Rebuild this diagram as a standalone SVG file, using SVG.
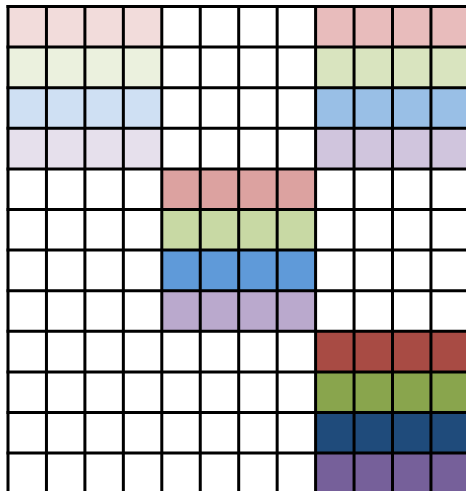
<svg xmlns="http://www.w3.org/2000/svg" width="466" height="491" viewBox="0 0 466 491">
  <style>
    .grid { stroke: #000; stroke-width: 3; fill: none; }
  </style>
  <rect width="466" height="491" fill="#ffffff"/>
  <g id="block-top-left">
    <rect x="8" y="6.5" width="153.8" height="40.6" fill="#f2dcdb"/>
    <rect x="8" y="47.1" width="153.8" height="40.6" fill="#ebf1de"/>
    <rect x="8" y="87.7" width="153.8" height="40.6" fill="#cfe0f3"/>
    <rect x="8" y="128.3" width="153.8" height="40.6" fill="#e6e0ec"/>
  </g>
  <g id="block-top-right">
    <rect x="315.6" y="6.5" width="160" height="40.6" fill="#e8bcbc"/>
    <rect x="315.6" y="47.1" width="160" height="40.6" fill="#d9e4bf"/>
    <rect x="315.6" y="87.7" width="160" height="40.6" fill="#99bfe6"/>
    <rect x="315.6" y="128.3" width="160" height="40.6" fill="#d0c5dd"/>
  </g>
  <g id="block-middle">
    <rect x="161.8" y="168.9" width="153.8" height="40.6" fill="#dca2a0"/>
    <rect x="161.8" y="209.5" width="153.8" height="40.6" fill="#c8d9a4"/>
    <rect x="161.8" y="250.1" width="153.8" height="40.6" fill="#5f9ad9"/>
    <rect x="161.8" y="290.7" width="153.8" height="40.6" fill="#baa9cd"/>
  </g>
  <g id="block-bottom-right">
    <rect x="315.6" y="331.3" width="160" height="40.6" fill="#a84b44"/>
    <rect x="315.6" y="371.9" width="160" height="40.6" fill="#89a54d"/>
    <rect x="315.6" y="412.5" width="160" height="40.6" fill="#1f4b7b"/>
    <rect x="315.6" y="453.1" width="160" height="40.6" fill="#76609a"/>
  </g>
  <g id="grid-lines">
    <path class="grid" d="M6.5 6.5H475 M6.5 47.1H475 M6.5 87.7H475 M6.5 128.3H475 M6.5 168.9H475 M6.5 209.5H475 M6.5 250.1H475 M6.5 290.7H475 M6.5 331.3H475 M6.5 371.9H475 M6.5 412.5H475 M6.5 453.1H475 M6.5 493.7H475"/>
    <path class="grid" d="M8 5V497 M46.45 5V497 M84.9 5V497 M123.35 5V497 M161.8 5V497 M200.25 5V497 M238.7 5V497 M277.15 5V497 M315.6 5V497 M354.05 5V497 M392.5 5V497 M430.95 5V497 M469.4 5V497"/>
  </g>
</svg>
